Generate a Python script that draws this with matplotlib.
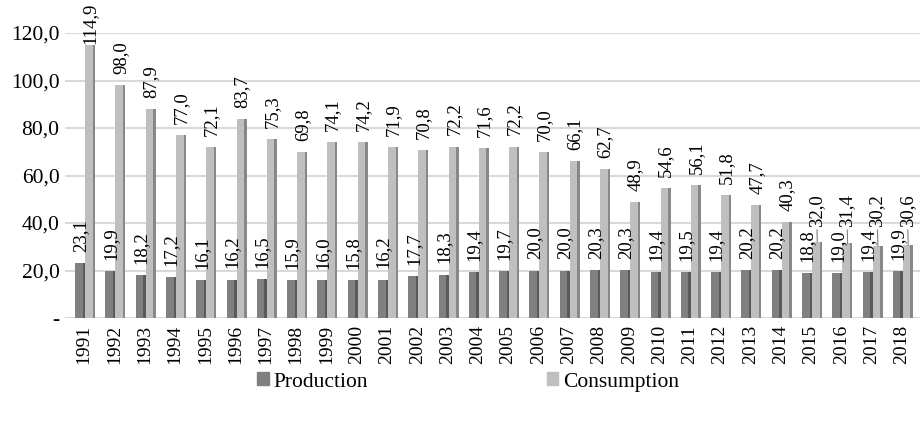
import matplotlib.pyplot as plt
import numpy as np

years = [str(y) for y in range(1991, 2019)]
production = [23.1, 19.9, 18.2, 17.2, 16.1, 16.2, 16.5, 15.9, 16.0, 15.8,
              16.2, 17.7, 18.3, 19.4, 19.7, 20.0, 20.0, 20.3, 20.3, 19.4,
              19.5, 19.4, 20.2, 20.2, 18.8, 19.0, 19.4, 19.9]
consumption = [114.9, 98.0, 87.9, 77.0, 72.1, 83.7, 75.3, 69.8, 74.1, 74.2,
               71.9, 70.8, 72.2, 71.6, 72.2, 70.0, 66.1, 62.7, 48.9, 54.6,
               56.1, 51.8, 47.7, 40.3, 32.0, 31.4, 30.2, 30.6]
y_ticks = [0, 20, 40, 60, 80, 100, 120]

plt.rcParams["font.family"] = ["Liberation Serif", "DejaVu Serif"]


def fmt(v):
    return f"{v:.1f}".replace(".", ",")


fig = plt.figure(figsize=(9.23, 4.22), dpi=100)
ax = fig.add_axes([65 / 923, 1 - 318 / 422, 855 / 923, 285 / 422])

x = np.arange(len(years))
front = 0.25
side = 0.08
prod_x = x - 0.17
cons_x = x + 0.16

# front faces and darker side faces to mimic the 3D columns
ax.bar(prod_x, production, width=front, color="#808080", zorder=3)
ax.bar(prod_x + front / 2 + side / 2, production, width=side, color="#5a5a5a", zorder=3)
ax.bar(cons_x, consumption, width=front, color="#bfbfbf", zorder=3)
ax.bar(cons_x + front / 2 + side / 2, consumption, width=side, color="#888888", zorder=3)

for xi, v in zip(prod_x, production):
    ax.annotate(fmt(v), (xi + 0.05, v), xytext=(0, 8), textcoords="offset points",
                rotation=90, ha="center", va="bottom", fontsize=13.5, clip_on=False)

for xi, v in zip(cons_x, consumption):
    if v < 35:
        # low bars: label lifted above the production label with a leader line
        ax.annotate(fmt(v), (xi + 0.05, v), xytext=(xi + 0.02, 38.3), textcoords="data",
                    rotation=90, ha="center", va="bottom", fontsize=13.5,
                    arrowprops=dict(arrowstyle="-", color="#808080", lw=0.8,
                                    shrinkA=0, shrinkB=0))
    else:
        lift = 1 if v > 110 else 8
        ax.annotate(fmt(v), (xi + 0.05, v), xytext=(0, lift), textcoords="offset points",
                    rotation=90, ha="center", va="bottom", fontsize=13.5,
                    annotation_clip=False)

ax.set_xlim(-0.63, 27.6)
ax.set_ylim(0, 120)
ax.set_yticks(y_ticks)
ax.set_yticklabels(["-" if t == 0 else fmt(t) for t in y_ticks], fontsize=15.5)
ax.set_xticks(x)
ax.set_xticklabels(years, rotation=90, fontsize=14)
ax.tick_params(axis="x", length=0, pad=5)
ax.tick_params(axis="y", length=0, pad=4)
ax.grid(axis="y", color="#d9d9d9", lw=1.5, zorder=0)
for s in ax.spines.values():
    s.set_visible(False)

handles = [plt.Rectangle((0, 0), 1, 1, color="#808080"),
           plt.Rectangle((0, 0), 1, 1, color="#bfbfbf")]
fig.legend(handles, ["Production", "Consumption"], loc="center",
           bbox_to_anchor=(468 / 923, 1 - 382 / 422), ncol=2, frameon=False,
           fontsize=15.5, handlelength=0.55, handleheight=0.55, handletextpad=0.2,
           columnspacing=8.3)

fig.savefig("out.png", dpi=100)
